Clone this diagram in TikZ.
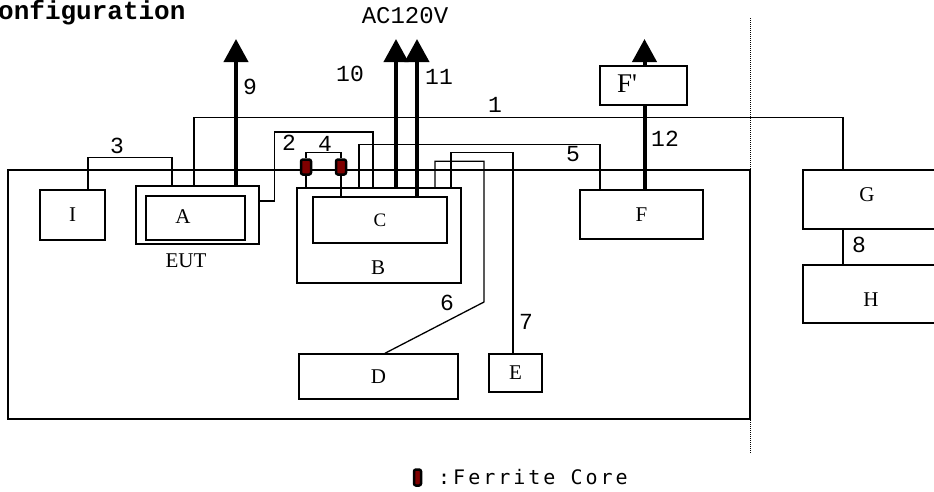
\documentclass[tikz,border=0pt]{standalone}
\usepackage{fontspec}
\setmainfont{Liberation Serif}
\newfontfamily\primefont[Ligatures=TeXOff]{Liberation Serif}
\newfontfamily\cablefont{Liberation Mono}
\newfontfamily\keyfont[LetterSpace=15]{DejaVu Sans Mono}
\usetikzlibrary{arrows.meta,positioning}
\definecolor{ferrite}{HTML}{800000}

\begin{document}
\begin{tikzpicture}[x=1pt,y=-1pt,
  box/.style={draw,line width=1.5pt,inner sep=0pt,font=\fontsize{21}{24}\selectfont},
  lbl/.style={inner sep=0pt,font=\fontsize{21}{24}\selectfont},
  num/.style={inner sep=0pt,font=\cablefont\fontsize{23}{28}\selectfont},
  cable/.style={line width=1.3pt},
  mains/.style={line width=4pt},
  power/.style={mains,-{Triangle[width=24pt,length=23pt]}},
  core/.style={draw,line width=2.5pt,fill=ferrite,rounded corners=2pt,minimum width=10pt,minimum height=15pt,inner sep=0pt},
]
  \clip (0,0) rectangle (934,491);
  \useasboundingbox (0,0) rectangle (934,491);

  % table and boundary
  \node[box,minimum width=742,minimum height=249] (table) at (379,294.5) {};
  \draw[line width=1pt,dash pattern=on 1pt off 1pt] (750,18) -- (750,453);

  % equipment
  \node[box,minimum width=65,minimum height=50] (I) at (72.5,215) {I};
  \node[box,minimum width=123,minimum height=58] (EUT) at (197.5,215) {};
  \node[box,minimum width=99,minimum height=44] (A) at (195.5,218) {};
  \node[lbl] (Atxt) at (183,217) {A};
  \node[lbl] (EUTtxt) at (186,261) {EUT};
  \node[box,minimum width=164,minimum height=95] (B) at (379,235.5) {};
  \node[lbl] (Btxt) at (378,268) {B};
  \node[box,minimum width=134,minimum height=46,font=\fontsize{19}{22}\selectfont] (C) at (380,220) {C};
  \node[box,minimum width=159,minimum height=45] (D) at (378.5,376.5) {D};
  \node[box,minimum width=53,minimum height=38] (E) at (515.5,373) {E};
  \node[box,minimum width=123,minimum height=49] (F) at (641.5,214.5) {F};
  \node[box,minimum width=87,minimum height=39] (Fp) at (643.5,85.5) {};
  \node[lbl,font=\primefont\fontsize{27}{30}\selectfont] (Fptxt) at (627,84) {F'};
  \node[box,minimum width=142,minimum height=59] (G) at (874,199.5) {};
  \node[lbl] (Gtxt) at (867,195) {G};
  \node[box,minimum width=142,minimum height=58] (H) at (874,294) {};
  \node[lbl] (Htxt) at (871,300) {H};

  % ferrite cores
  \node[core] (core1) at (306,167) {};
  \node[core] (core2) at (341,167) {};

  % cables
  \draw[cable] ([xshift=15.5]I.north) -- ++(0,-32) -| ([xshift=-25.5]EUT.north);
  \draw[cable] ([xshift=-3.5]EUT.north) -- ++(0,-68) -| ([xshift=-31]G.north);
  \draw[cable] ([yshift=14]EUT.east) -- ++(15,0) -- ++(0,-69) -| ([xshift=-6]B.north);
  \draw[cable] (core1.north) -- ++(0,-6) -| (core2.north);
  \draw[cable] (core1.south) -- (core1.south |- B.north);
  \draw[cable] (core2.south) -- (core2.south |- C.north);
  \draw[cable] ([xshift=-20]B.north) -- ++(0,-43) -| ([xshift=-41.5]F.north);
  \coordinate (bend6) at (484,302);
  \draw[cable] ([xshift=56]B.north) -- ++(0,-26) -| (bend6) -- ([xshift=6.5]D.north);
  \draw[cable] ([xshift=72]B.north) -- ++(0,-35) -| ([xshift=-2.5]E.north);
  \draw[cable] ([xshift=-31]G.south) -- ([xshift=-31]H.north);

  % mains leads
  \coordinate (tip9) at (236,39);
  \coordinate (tip10) at (396,39);
  \coordinate (tip11) at (417,39);
  \coordinate (tip12) at (644.5,39);
  \draw[power] ([xshift=38.5]EUT.north) -- (tip9);
  \draw[power] ([xshift=17]B.north) -- (tip10);
  \draw[power] ([xshift=37]C.north) -- (tip11);
  \draw[mains] ([xshift=3.5]F.north) -- ([xshift=1.5]Fp.south);
  \draw[power] ([xshift=1]Fp.north) -- (tip12);

  % cable numbers
  \node[num] (n1) at (495,105) {1};
  \node[num] (n2) at (289,143) {2};
  \node[num] (n3) at (117,146) {3};
  \node[num] (n4) at (325,144) {4};
  \node[num] (n5) at (573,154) {5};
  \node[num] (n6) at (447,303) {6};
  \node[num] (n7) at (526,322) {7};
  \node[num] (n8) at (859,245) {8};
  \node[num] (n9) at (250,87) {9};
  \node[num] (n10) at (350,74) {10};
  \node[num] (n11) at (439,77) {11};
  \node[num] (n12) at (665,139) {12};
  \node[num,font=\cablefont\fontsize{24}{28}\selectfont] (ac) at (405,16) {AC120V};
  \node[inner sep=0pt,anchor=west,font=\cablefont\bfseries\fontsize{26}{30}\selectfont] (title) at (-2,13) {onfiguration};

  % legend
  \node[core,minimum width=7pt,minimum height=16pt] (keycore) at (417.5,477.5) {};
  \node[inner sep=0pt,anchor=west,font=\keyfont\fontsize{20}{22}\selectfont] (keytxt) at (438,477) {:Ferrite Core};
\end{tikzpicture}
\end{document}
